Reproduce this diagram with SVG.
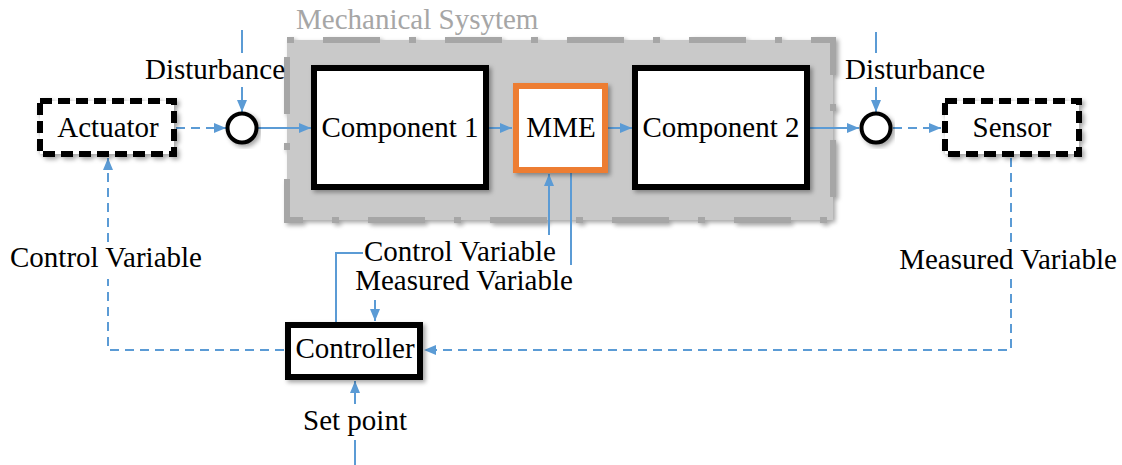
<svg xmlns="http://www.w3.org/2000/svg" width="1122" height="465" viewBox="0 0 1122 465" font-family="Liberation Serif, Times New Roman, serif">
  <style>
    text { font-family: 'Liberation Serif', 'Times New Roman', serif; font-size: 29px; fill: #000; }
    .mid { text-anchor: middle; }
    .title { fill: #a6a6a6; }
    .box { fill: #fff; stroke: #000; stroke-width: 6; filter: url(#shadow); }
    .dashbox { fill: #fff; stroke: #000; stroke-width: 6; stroke-dasharray: 12 6; filter: url(#shadow); }
    .mme { fill: #fff; stroke: #ed7d31; stroke-width: 6; filter: url(#shadow); }
    .sum { fill: #fff; stroke: #000; stroke-width: 4; filter: url(#shadow); }
    .group { fill: #c9c9c9; stroke: #a6a6a6; stroke-width: 6; stroke-dasharray: 7 29 57 29; filter: url(#shadow); }
    .flow { fill: none; stroke: #5b9bd5; stroke-width: 2; }
    .dash { stroke-dasharray: 9 6; }
    .arrow { marker-end: url(#head); }
  </style>
  <defs>
    <filter id="shadow" x="-10%" y="-10%" width="125%" height="130%">
      <feDropShadow dx="2.5" dy="2.5" stdDeviation="2" flood-color="#000" flood-opacity="0.35"/>
    </filter>
    <marker id="head" markerUnits="userSpaceOnUse" markerWidth="13" markerHeight="12" refX="12" refY="5" orient="auto">
      <path d="M0,0 L12,5 L0,10 Z" fill="#5b9bd5"/>
    </marker>
  </defs>

  <!-- mechanical system enclosure -->
  <g id="mechanical-system">
    <rect class="group" x="287" y="40" width="546" height="180"/>
    <text class="title" x="296" y="29">Mechanical Sysytem</text>
  </g>

  <!-- connectors -->
  <g id="connectors">
    <!-- disturbances -->
    <line class="flow" x1="242" y1="30" x2="242" y2="53"/>
    <line class="flow arrow" x1="242" y1="87" x2="242" y2="112"/>
    <line class="flow" x1="876" y1="32" x2="876" y2="53"/>
    <line class="flow arrow" x1="876" y1="87" x2="876" y2="112"/>
    <!-- forward path -->
    <line class="flow dash arrow" x1="176" y1="128" x2="226" y2="128"/>
    <line class="flow arrow" x1="258" y1="128" x2="311" y2="128"/>
    <line class="flow arrow" x1="489" y1="128" x2="512" y2="128"/>
    <line class="flow arrow" x1="608" y1="128" x2="632" y2="128"/>
    <line class="flow arrow" x1="810" y1="128" x2="859" y2="128"/>
    <line class="flow dash arrow" x1="893" y1="128" x2="941" y2="128"/>
    <!-- sensor feedback -->
    <polyline class="flow dash" points="1011,158 1011,242"/>
    <polyline class="flow dash arrow" points="1011,279 1011,350 424,350"/>
    <!-- control signal to actuator -->
    <polyline class="flow dash" points="284,350 108,350 108,279"/>
    <line class="flow dash arrow" x1="108" y1="242" x2="108" y2="158"/>
    <!-- set point -->
    <line class="flow" x1="355" y1="465" x2="355" y2="440"/>
    <line class="flow arrow" x1="355" y1="404" x2="355" y2="381"/>
    <!-- controller / MME link -->
    <polyline class="flow" points="336,322 336,253 363,253"/>
    <line class="flow arrow" x1="549" y1="235" x2="549" y2="174"/>
    <line class="flow" x1="571" y1="173" x2="571" y2="265"/>
    <line class="flow arrow" x1="375" y1="300" x2="375" y2="321"/>
  </g>

  <g id="actuator">
    <rect class="dashbox" x="40" y="101" width="134" height="53"/>
    <text class="mid" x="108" y="137">Actuator</text>
  </g>

  <g id="sum-1">
    <circle class="sum" cx="242" cy="128" r="14.5"/>
  </g>
  <text class="mid" x="215" y="79">Disturbance</text>

  <g id="component-1">
    <rect class="box" x="314" y="68" width="172" height="119"/>
    <text class="mid" x="400" y="137">Component 1</text>
  </g>

  <g id="mme">
    <rect class="mme" x="516" y="86" width="89" height="84"/>
    <text class="mid" x="561" y="137">MME</text>
  </g>

  <g id="component-2">
    <rect class="box" x="635" y="68" width="172" height="119"/>
    <text class="mid" x="721" y="137">Component 2</text>
  </g>

  <g id="sum-2">
    <circle class="sum" cx="876" cy="128" r="14.5"/>
  </g>
  <text class="mid" x="915" y="79">Disturbance</text>

  <g id="sensor">
    <rect class="dashbox" x="945" y="101" width="134" height="53"/>
    <text class="mid" x="1012" y="137">Sensor</text>
  </g>

  <g id="controller">
    <rect class="box" x="288" y="325" width="132" height="52"/>
    <text class="mid" x="355" y="358">Controller</text>
  </g>

  <!-- signal labels -->
  <text class="mid" x="106" y="267">Control Variable</text>
  <text class="mid" x="1008" y="269">Measured Variable</text>
  <text class="mid" x="460" y="261">Control Variable</text>
  <text class="mid" x="464" y="290">Measured Variable</text>
  <text class="mid" x="355" y="430">Set point</text>
</svg>
